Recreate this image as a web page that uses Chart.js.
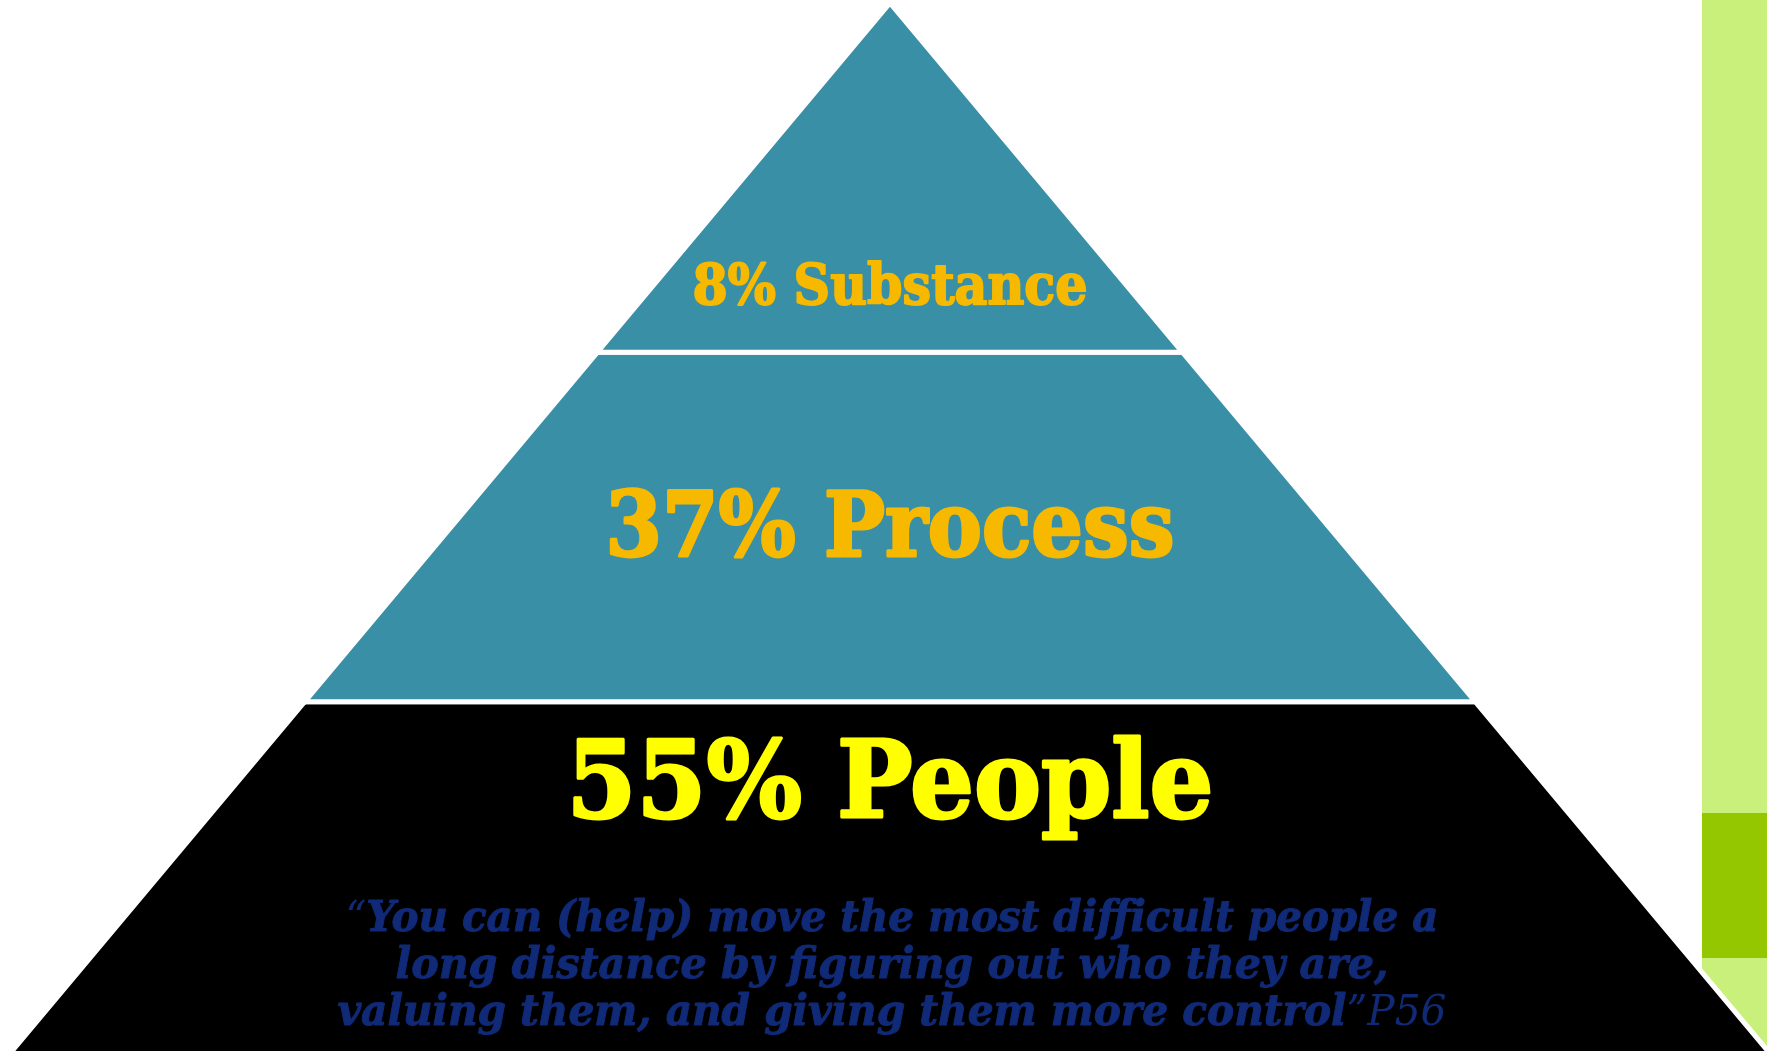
<!DOCTYPE html>
<html lang="en">
<head>
  <meta charset="UTF-8" />
  <title>People / Process / Substance</title>
  <script src="https://cdn.jsdelivr.net/npm/chart.js@4.4.1/dist/chart.umd.min.js"></script>
  <style>
    html, body {
      margin: 0;
      padding: 0;
      background: #fff;
    }
    body {
      width: 1767px;
      height: 1051px;
      position: relative;
      overflow: hidden;
    }
    .band {
      position: absolute;
      left: 1702px;
      top: 0;
      width: 65px;
      height: 1051px;
      background: #c9f07b;
    }
    .band-dark {
      position: absolute;
      left: 1702px;
      top: 813px;
      width: 65px;
      height: 145px;
      background: #95c700;
    }
    .chart-box {
      position: absolute;
      left: 0;
      top: 0;
      width: 1767px;
      height: 1051px;
    }
  </style>
</head>
<body>
  <div class="band"></div>
  <div class="band-dark"></div>
  <div class="chart-box"><canvas id="pyramid"></canvas></div>

  <script>
    // layers, top to bottom
    const layerNames = ['Substance', 'Process', 'People'];
    const layerShares = [8, 37, 55];
    const layerTop = [3, 2, 1];
    const layerBottom = [2, 1, -0.2];
    const quoteLines = [
      'You can (help) move the most difficult people a',
      'long distance by figuring out who they are,',
      'valuing them, and giving them more control'
    ];
    const quoteSource = 'P56';

    const apex = 3;
    const slope = 0.8378; // half-width per level

    const halfWidth = lvl => slope * (apex - lvl);

    // text look (baseline in pyramid levels, width in px)
    const labelStyle = [
      { size: 56, color: '#f7b900', base: 2.138, width: 395, stroke: 2 },
      { size: 90, color: '#f7b900', base: 1.417, width: 569, stroke: 3 },
      { size: 106, color: '#ffff00', base: 0.670, width: 647, stroke: 3 }
    ];
    const quoteStyle = { size: 42, color: '#102a78', base: [0.3435, 0.209, 0.0744], width: [1093, 993, 1109], stroke: 1 };

    const datasets = layerNames.map((name, i) => {
      const t = layerTop[i], b = layerBottom[i];
      return {
        label: layerShares[i] + '% ' + name,
        data: [
          { x: -halfWidth(b), y: b },
          { x: halfWidth(b), y: b },
          { x: halfWidth(t), y: t },
          { x: -halfWidth(t), y: t },
          { x: -halfWidth(b), y: b }
        ],
        showLine: true,
        fill: 'shape',
        backgroundColor: i === 2 ? '#000000' : '#388fa6',
        borderColor: '#ffffff',
        borderWidth: 5,
        borderJoinStyle: 'miter',
        borderCapStyle: 'square',
        pointRadius: 0,
        tension: 0
      };
    });

    function drawRuns(ctx, runs, cx, baseline, targetWidth, stroke) {
      let total = 0;
      runs.forEach(r => { ctx.font = r.font; r.w = ctx.measureText(r.text).width; total += r.w; });
      const sx = targetWidth / total;
      ctx.save();
      ctx.translate(cx - targetWidth / 2, baseline);
      ctx.scale(sx, 1);
      ctx.lineJoin = 'round';
      let x = 0;
      runs.forEach(r => {
        ctx.font = r.font;
        ctx.fillStyle = r.color;
        ctx.fillText(r.text, x, 0);
        if (stroke && r.heavy !== false) {
          ctx.strokeStyle = r.color;
          ctx.lineWidth = stroke;
          ctx.strokeText(r.text, x, 0);
        }
        x += r.w;
      });
      ctx.restore();
    }

    const textPlugin = {
      id: 'pyramidText',
      afterDatasetsDraw(chart) {
        const { ctx, scales: { x, y } } = chart;
        const cx = x.getPixelForValue(0);
        ctx.save();
        ctx.textBaseline = 'alphabetic';
        ctx.textAlign = 'left';
        layerNames.forEach((name, i) => {
          const s = labelStyle[i];
          drawRuns(ctx, [{ text: layerShares[i] + '% ' + name, font: 'bold ' + s.size + 'px "DejaVu Serif"', color: s.color }],
            cx, y.getPixelForValue(s.base), s.width, s.stroke);
        });
        const q = quoteStyle;
        const bold = 'italic bold ' + q.size + 'px "DejaVu Serif"';
        const thin = 'italic ' + q.size + 'px "DejaVu Serif"';
        const lines = [
          [{ text: '\u201C', font: thin, color: q.color, heavy: false }, { text: quoteLines[0], font: bold, color: q.color }],
          [{ text: quoteLines[1], font: bold, color: q.color }],
          [{ text: quoteLines[2], font: bold, color: q.color }, { text: '\u201D' + quoteSource, font: thin, color: q.color, heavy: false }]
        ];
        lines.forEach((runs, i) => drawRuns(ctx, runs, cx + 2, y.getPixelForValue(q.base[i]), q.width[i], q.stroke));
        ctx.restore();
      }
    };

    new Chart(document.getElementById('pyramid'), {
      type: 'scatter',
      data: { datasets },
      options: {
        responsive: true,
        maintainAspectRatio: false,
        animation: false,
        layout: { padding: 0 },
        scales: {
          x: { type: 'linear', display: false, min: -2.548, max: 2.511 },
          y: { type: 'linear', display: false, min: 0, max: 3.0086 }
        },
        plugins: {
          legend: { display: false },
          tooltip: { enabled: false }
        }
      },
      plugins: [textPlugin]
    });
  </script>
</body>
</html>
